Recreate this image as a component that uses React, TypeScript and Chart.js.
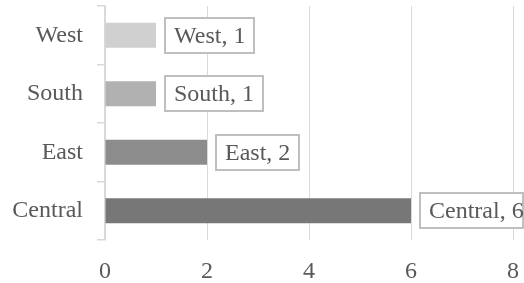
import React, { useEffect, useRef } from "react";
import { Chart, registerables } from "chart.js";

Chart.register(...registerables);

const categories: string[] = ["West", "South", "East", "Central"];
const values: number[] = [1, 1, 2, 6];
const barColors: string[] = ["#d0d0d0", "#b1b1b1", "#8c8c8c", "#777777"];
const xTicks: number[] = [0, 2, 4, 6, 8];

const FONT = "'Liberation Serif', 'Times New Roman', serif";
const TEXT_COLOR = "#595959";
const FONT_SIZE = 24;

const labelPlugin = {
  id: "boxLabels",
  afterDatasetsDraw(chart: any) {
    const ctx = chart.ctx;
    const meta = chart.getDatasetMeta(0);
    ctx.save();
    ctx.font = `${FONT_SIZE}px ${FONT}`;
    meta.data.forEach((bar: any, i: number) => {
      const text = `${categories[i]}, ${values[i]}`;
      const tw = ctx.measureText(text).width;
      const padX = 9;
      const h = 35;
      const left = Math.round(bar.x + 9);
      let w = Math.round(tw + padX * 2);
      const maxRight = chart.width - 1;
      if (left + w > maxRight) w = maxRight - left;
      const top = Math.round(bar.y - h / 2);
      ctx.fillStyle = "#ffffff";
      ctx.fillRect(left, top, w, h);
      ctx.strokeStyle = "#bfbfbf";
      ctx.lineWidth = 2;
      ctx.strokeRect(left, top, w, h);
      ctx.fillStyle = TEXT_COLOR;
      ctx.textAlign = "left";
      ctx.textBaseline = "middle";
      ctx.fillText(text, left + padX, bar.y + 1);
    });
    ctx.restore();
  },
};

export default function App() {
  const ref = useRef<HTMLCanvasElement | null>(null);
  useEffect(() => {
    if (!ref.current) return;
    const chart = new Chart(ref.current, {
      type: "bar",
      data: {
        labels: categories,
        datasets: [
          {
            data: values,
            backgroundColor: barColors,
            borderWidth: 0,
            barPercentage: 0.43,
            categoryPercentage: 1,
          },
        ],
      },
      options: {
        indexAxis: "y",
        animation: false,
        responsive: false,
        layout: { padding: { top: 6, right: 11, left: 0, bottom: 0 } },
        plugins: { legend: { display: false }, tooltip: { enabled: false } },
        scales: {
          x: {
            min: 0,
            max: 8,
            afterBuildTicks: (scale: any) => {
              scale.ticks = xTicks.map((v) => ({ value: v }));
            },
            afterFit: (scale: any) => {
              scale.height = 43;
              scale.paddingLeft = 0;
              scale.paddingRight = 0;
            },
            grid: {
              color: "#d9d9d9",
              lineWidth: 1,
              drawTicks: false,
            },
            border: { display: false },
            ticks: {
              color: TEXT_COLOR,
              font: { family: FONT, size: FONT_SIZE },
              padding: 17,
            },
          },
          y: {
            afterFit: (scale: any) => {
              scale.width = 105;
              scale.paddingTop = 0;
              scale.paddingBottom = 0;
            },
            grid: {
              drawOnChartArea: false,
              drawTicks: true,
              tickLength: 8,
              color: "#d9d9d9",
              lineWidth: 1.5,
            },
            border: { display: true, color: "#d9d9d9", width: 1.5 },
            ticks: {
              color: TEXT_COLOR,
              font: { family: FONT, size: FONT_SIZE },
              padding: 14,
            },
          },
        },
      },
      plugins: [labelPlugin],
    });
    return () => chart.destroy();
  }, []);
  return (
    <div style={{ position: "absolute", left: 0, top: 0, width: 524, height: 283 }}>
      <canvas ref={ref} width={524} height={283} />
    </div>
  );
}
